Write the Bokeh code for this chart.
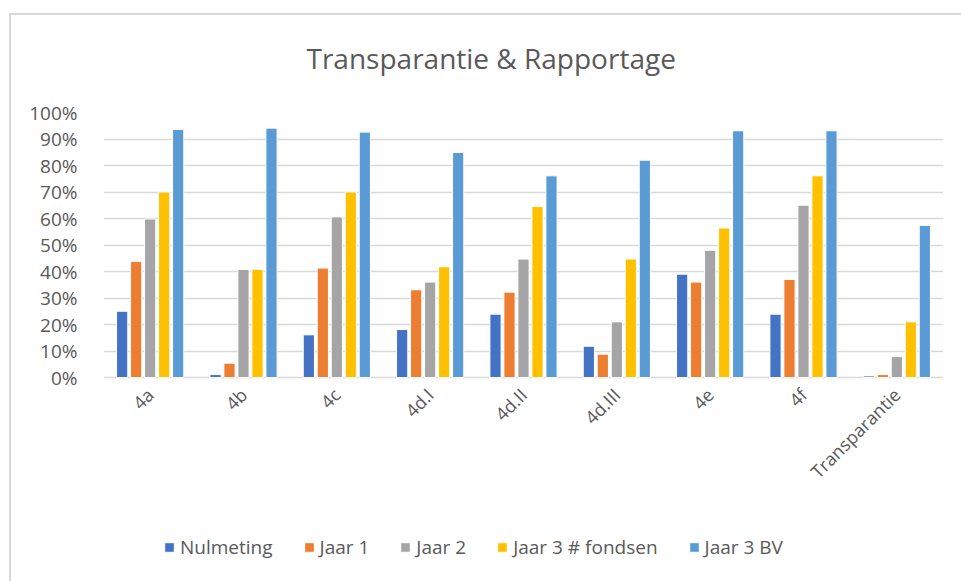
from bokeh.plotting import figure
from bokeh.models import ColumnDataSource, FactorRange, Range1d, NumeralTickFormatter, Legend, LegendItem, FixedTicker
from bokeh.transform import dodge
from bokeh.embed import file_html
from bokeh.resources import INLINE
from math import pi

categories = ["4a", "4b", "4c", "4d.I", "4d.II", "4d.III", "4e", "4f", "Transparantie"]
series_names = ["Nulmeting", "Jaar 1", "Jaar 2", "Jaar 3 # fondsen", "Jaar 3 BV"]
nulmeting = [0.25, 0.011, 0.161, 0.181, 0.239, 0.118, 0.39, 0.239, 0.006]
jaar1 = [0.438, 0.054, 0.413, 0.331, 0.322, 0.088, 0.36, 0.37, 0.011]
jaar2 = [0.598, 0.408, 0.606, 0.36, 0.447, 0.21, 0.48, 0.65, 0.079]
jaar3_fondsen = [0.70, 0.408, 0.70, 0.418, 0.645, 0.447, 0.564, 0.761, 0.21]
jaar3_bv = [0.936, 0.941, 0.926, 0.849, 0.761, 0.82, 0.931, 0.931, 0.574]
colors = ["#4472C4", "#ED7D31", "#A5A5A5", "#FFC000", "#5B9BD5"]
y_ticks = [i / 10 for i in range(11)]

src = ColumnDataSource(dict(cat=categories, s0=nulmeting, s1=jaar1, s2=jaar2, s3=jaar3_fondsen, s4=jaar3_bv))

FONT = "Open Sans"
TXT = "#595959"
BORDER = "#d9d9d9"

# frame extends below the value axis so the category labels and legend sit inside it;
# 0..1 spans 265 px, the frame is 465 px tall
FRAME_H = 465
PX_PER_UNIT = 265
p = figure(x_range=FactorRange(*categories), y_range=Range1d(1 - FRAME_H / PX_PER_UNIT, 1),
           frame_width=840, frame_height=FRAME_H, output_backend="svg", toolbar_location=None,
           min_border_left=103, min_border_right=18, min_border_top=112, min_border_bottom=4)
p.border_fill_color = None
p.background_fill_color = None
p.styles = {"background": (f"linear-gradient({BORDER},{BORDER}) 9px 13px / 2px 100% no-repeat, "
                           f"linear-gradient({BORDER},{BORDER}) 9px 13px / 100% 2px no-repeat, white")}

p.title.text = "Transparantie & Rapportage"
p.title.align = "left"
p.title.text_font = FONT
p.title.text_font_size = "28px"
p.title.text_font_style = "normal"
p.title.text_color = TXT
p.title.standoff = 72
p.title.offset = 203

offsets = [-0.3, -0.15, 0.0, 0.15, 0.3]
renderers = []
for i, (name, col) in enumerate(zip(series_names, colors)):
    r = p.vbar(x=dodge("cat", offsets[i], range=p.x_range), top="s%d" % i, bottom=0, width=0.12,
               source=src, fill_color=col, line_color="white", line_width=1)
    renderers.append(r)

p.outline_line_color = None
p.xgrid.grid_line_color = None
p.ygrid.grid_line_color = BORDER
p.ygrid.grid_line_width = 1.5
p.yaxis.ticker = FixedTicker(ticks=y_ticks)
p.yaxis.formatter = NumeralTickFormatter(format="0%")
for ax in (p.xaxis, p.yaxis):
    ax.axis_line_color = None
    ax.major_tick_line_color = None
    ax.minor_tick_line_color = None
    ax.major_label_text_font = FONT
    ax.major_label_text_color = TXT
    ax.major_label_text_font_size = "19px"
p.yaxis.major_label_standoff = 20
p.xaxis.fixed_location = 0
p.xaxis.major_label_standoff = 8
p.xaxis.major_label_orientation = pi / 4
p.xaxis.major_label_text_font_size = "18px"

legend = Legend(items=[LegendItem(label=n, renderers=[r]) for n, r in zip(series_names, renderers)],
                orientation="horizontal", location=(60, 17), margin=0, padding=0,
                label_text_font=FONT, label_text_font_size="19px", label_text_color=TXT,
                glyph_width=12, glyph_height=12, spacing=30, label_standoff=5,
                border_line_color=None, background_fill_alpha=0)
p.add_layout(legend, "center")

open("out.html", "w").write(file_html(p, INLINE))
